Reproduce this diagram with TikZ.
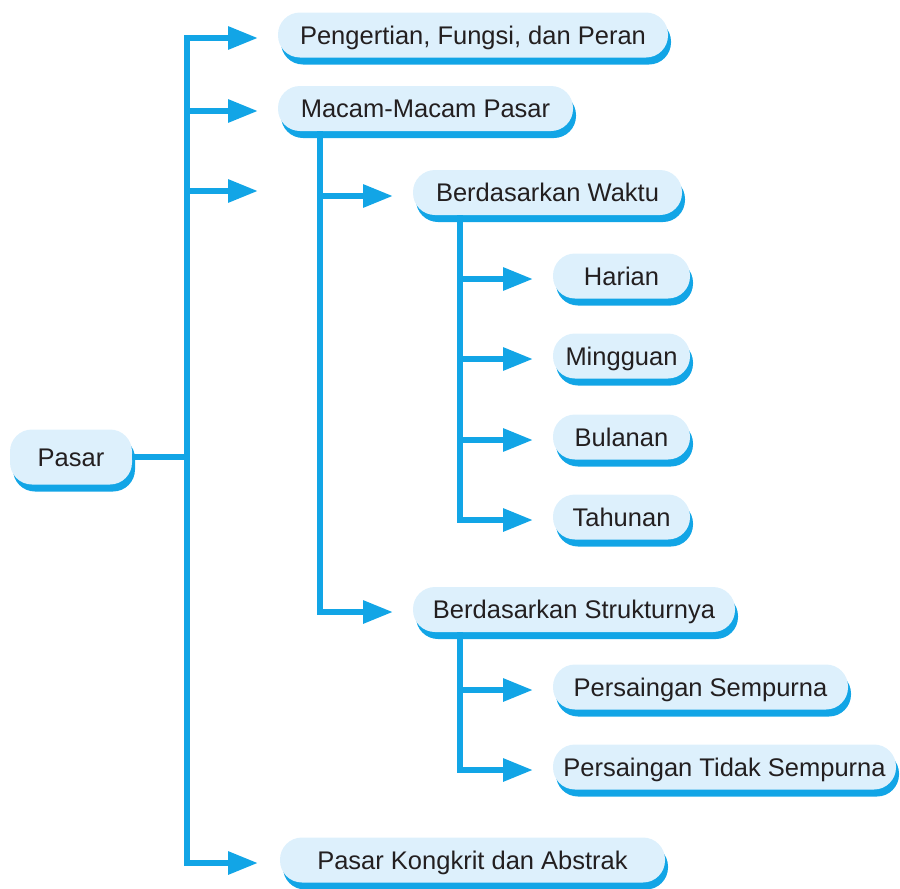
\documentclass[tikz,border=0pt]{standalone}
\usepackage{fontspec}
\setmainfont{Liberation Sans}
\usetikzlibrary{arrows.meta,shadows}

\definecolor{flowblue}{RGB}{18,165,230}
\definecolor{boxfill}{RGB}{221,240,252}
\definecolor{inkdark}{RGB}{35,31,32}

\tikzset{
  topic/.style={rounded corners=22pt, fill=boxfill, minimum height=45pt,
    inner sep=0pt, text=inkdark, font=\fontsize{25.5}{30}\selectfont,
    text height=24pt, text depth=6pt,
    general shadow={fill=flowblue, shadow xshift=3pt, shadow yshift=-7pt}},
  link/.style={draw=flowblue, line width=6pt, line join=miter},
  tip/.style={link, -{Triangle[length=30pt,width=22pt]}}
}

\begin{document}
\begin{tikzpicture}[x=1pt,y=-1pt]
  \useasboundingbox (0,0) rectangle (900,889);

  % topic boxes
  \node[topic, minimum width=122pt, minimum height=55pt] (pasar) at (71,457) {Pasar};
  \node[topic, minimum width=390pt] (peng) at (473,35) {Pengertian, Fungsi, dan Peran};
  \node[topic, minimum width=295pt] (macam) at (425.5,108.5) {Macam-Macam Pasar};
  \node[topic, minimum width=269pt] (waktu) at (547.5,192.5) {Berdasarkan Waktu};
  \node[topic, minimum width=137pt] (harian) at (621.5,276) {Harian};
  \node[topic, minimum width=137pt] (mingguan) at (621.5,356) {Mingguan};
  \node[topic, minimum width=137pt] (bulanan) at (621.5,437) {Bulanan};
  \node[topic, minimum width=137pt] (tahunan) at (621.5,517) {Tahunan};
  \node[topic, minimum width=322pt] (struktur) at (574,609.5) {Berdasarkan Strukturnya};
  \node[topic, minimum width=295pt] (sempurna) at (700.5,687) {Persaingan Sempurna};
  \node[topic, minimum width=343pt] (tidak) at (724.5,767) {Persaingan Tidak Sempurna};
  \node[topic, minimum width=385pt] (kongkrit) at (472.5,860) {Pasar Kongkrit dan Abstrak};

  % junctions and arrow ends
  \coordinate (hub) at (186.5,457);
  \coordinate (toPeng) at (258,38);
  \coordinate (toMacam) at (258,111);
  \coordinate (toBlank) at (258,191);
  \coordinate (toKongkrit) at (258,863);
  \coordinate (macamFoot) at (319.5,131);
  \coordinate (toWaktu) at (393,196);
  \coordinate (toStruktur) at (393,612);
  \coordinate (waktuFoot) at (459.5,215);
  \coordinate (toHarian) at (533,279);
  \coordinate (toMingguan) at (533,359);
  \coordinate (toBulanan) at (533,440);
  \coordinate (toTahunan) at (533,520);
  \coordinate (strukturFoot) at (459.5,632);
  \coordinate (toSempurna) at (533,690);
  \coordinate (toTidak) at (533,770);

  % main tree
  \draw[link] (pasar.east) -- (hub);
  \draw[tip] (hub) |- (toPeng);
  \draw[tip] (hub) |- (toMacam);
  \draw[tip] (hub) |- (toBlank);
  \draw[tip] (hub) |- (toKongkrit);

  % kinds of market
  \draw[tip] (macamFoot) |- (toWaktu);
  \draw[tip] (macamFoot) |- (toStruktur);

  % by time
  \draw[tip] (waktuFoot) |- (toHarian);
  \draw[tip] (waktuFoot) |- (toMingguan);
  \draw[tip] (waktuFoot) |- (toBulanan);
  \draw[tip] (waktuFoot) |- (toTahunan);

  % by structure
  \draw[tip] (strukturFoot) |- (toSempurna);
  \draw[tip] (strukturFoot) |- (toTidak);
\end{tikzpicture}
\end{document}
